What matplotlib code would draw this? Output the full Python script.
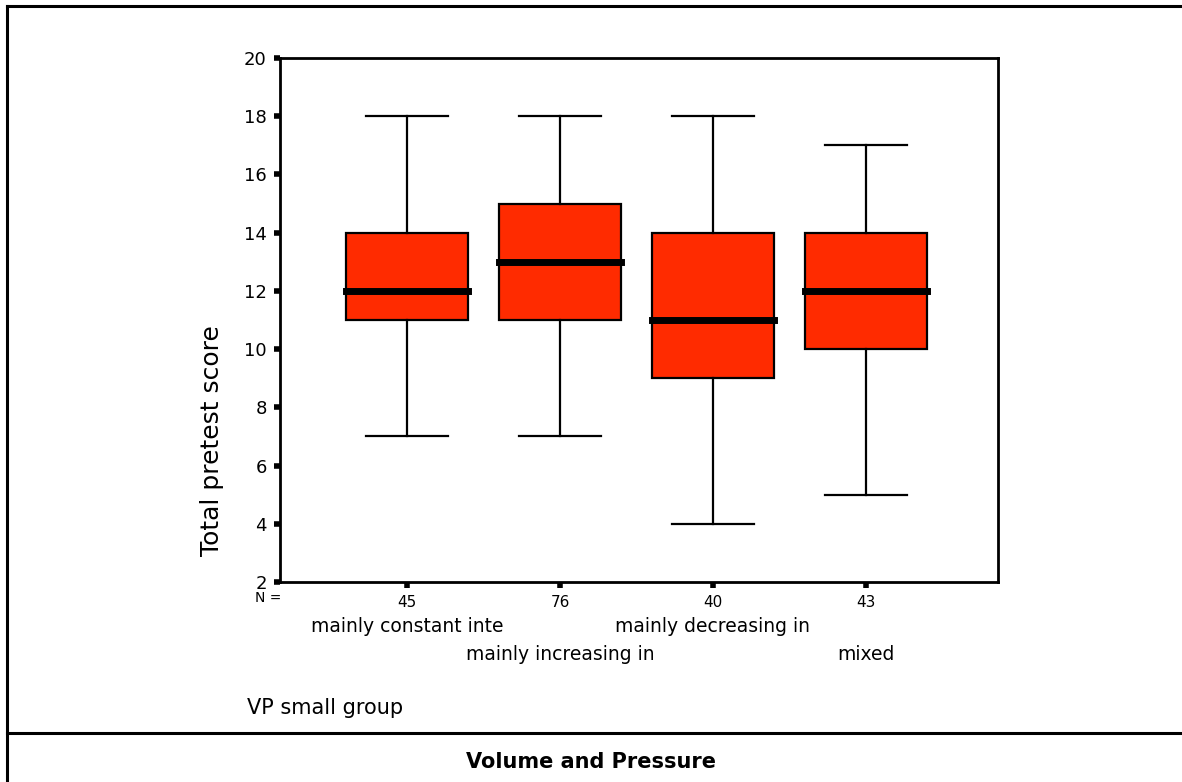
import matplotlib
matplotlib.use("Agg")
import matplotlib.pyplot as plt
from matplotlib.lines import Line2D
import matplotlib.transforms as mtransforms

# ---- data ----
categories = ["mainly constant inte", "mainly increasing in",
              "mainly decreasing in", "mixed"]
n_values = [45, 76, 40, 43]
whisker_low = [7, 7, 4, 5]
q1_values = [11, 11, 9, 10]
medians = [12, 13, 11, 12]
q3_values = [14, 15, 14, 14]
whisker_high = [18, 18, 18, 17]
y_ticks = [2, 4, 6, 8, 10, 12, 14, 16, 18, 20]

W, H = 1182, 782
fig = plt.figure(figsize=(W / 100, H / 100), dpi=100)
ax = fig.add_axes([280 / W, 1 - 582 / H, (998 - 280) / W, (582 - 58) / H])

stats = []
for i in range(len(categories)):
    stats.append(dict(whislo=whisker_low[i], q1=q1_values[i], med=medians[i],
                      q3=q3_values[i], whishi=whisker_high[i], fliers=[],
                      label=str(n_values[i])))

positions = list(range(1, len(categories) + 1))
ax.bxp(stats, positions=positions, widths=0.8, capwidths=0.54,
       patch_artist=True, showfliers=False,
       boxprops=dict(facecolor="#FF2B00", edgecolor="black", linewidth=1.6),
       whiskerprops=dict(color="black", linewidth=1.6),
       capprops=dict(color="black", linewidth=1.6),
       medianprops=dict(color="black", linewidth=5, solid_capstyle="projecting"))

ax.set_xlim(0.17, 4.863)
ax.set_ylim(2, 20)
ax.set_yticks(y_ticks)
ax.set_yticklabels([str(v) for v in y_ticks], fontsize=13)
ax.set_xticks(positions)
ax.set_xticklabels([str(n) for n in n_values], fontsize=11)
ax.tick_params(axis="both", direction="out", length=4.5, width=4, color="black", pad=5)
for sp in ax.spines.values():
    sp.set_linewidth(2)

fig.text(212 / W, 1 - 441 / H, "Total pretest score", fontsize=18, rotation=90,
         ha="center", va="center")

trans = mtransforms.blended_transform_factory(ax.transData, fig.transFigure)
fig.text(268 / W, 1 - 598 / H, "N =", fontsize=10, ha="center", va="center")
rows = [627, 655, 627, 655]
for i, cat in enumerate(categories):
    ax.text(positions[i], 1 - rows[i] / H, cat, transform=trans, fontsize=13.5,
            ha="center", va="center", clip_on=False)

fig.text(247 / W, 1 - 708 / H, "VP small group", fontsize=15, ha="left", va="center")
fig.text(0.5, 1 - 762 / H, "Volume and Pressure", fontsize=15, fontweight="bold",
         ha="center", va="center")

# frame lines
lw = 2.2
fig.add_artist(Line2D([7 / W, 7 / W], [0, 1 - 6 / H], transform=fig.transFigure,
                      color="black", linewidth=lw))
fig.add_artist(Line2D([7 / W, 1], [1 - 6 / H, 1 - 6 / H], transform=fig.transFigure,
                      color="black", linewidth=lw))
fig.add_artist(Line2D([7 / W, 1], [1 - 733 / H, 1 - 733 / H], transform=fig.transFigure,
                      color="black", linewidth=lw))

fig.savefig("out.png", dpi=100)
